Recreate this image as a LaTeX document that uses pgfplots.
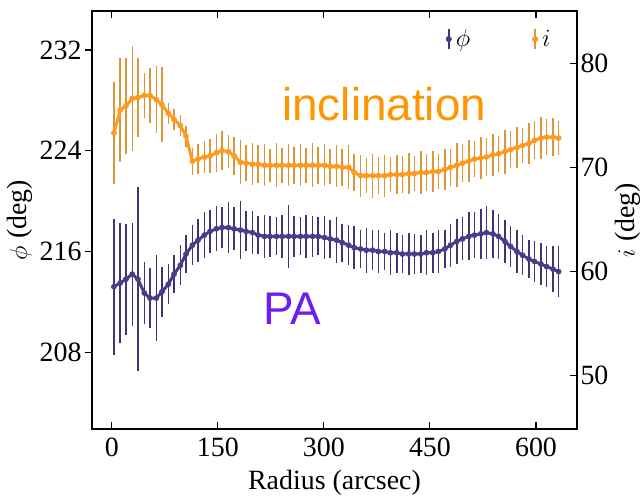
\documentclass[border=0pt]{standalone}
\usepackage{fontspec}
\setmainfont{Liberation Serif}
\newfontfamily\arialfont{Liberation Sans}
\usepackage{pgfplots}
\pgfplotsset{compat=1.18}
\usepackage{pgfplotstable}
\definecolor{pablue}{RGB}{72,61,139}
\definecolor{pabar}{RGB}{62,54,112}
\definecolor{incor}{RGB}{255,154,30}
\definecolor{incbar}{RGB}{218,150,55}
\definecolor{patext}{RGB}{110,30,240}
\definecolor{inctext}{RGB}{255,149,0}

\pgfplotstableread{
r v e
3 213.2 5.4
12 213.5 4.8
20 213.8 4.4
29 214.2 4.1
37 213.8 7.3
46 212.7 2.5
54 212.3 2.4
63 212.3 3.4
71 212.8 2.0
80 213.4 1.6
88 214.2 1.5
97 214.9 1.6
105 215.8 1.5
114 216.5 1.6
122 216.9 1.7
131 217.3 1.8
139 217.6 1.7
148 217.8 1.8
156 217.9 1.6
165 217.9 2.0
173 217.8 1.7
182 217.7 2.3
190 217.6 1.6
199 217.5 1.7
207 217.3 1.5
216 217.2 1.7
224 217.2 1.6
233 217.2 1.5
241 217.2 1.7
250 217.2 2.5
258 217.2 1.6
267 217.2 1.5
275 217.2 1.7
284 217.2 1.6
292 217.2 1.5
301 217.1 1.7
309 217.0 1.5
318 216.9 1.8
326 216.7 1.5
335 216.5 1.6
343 216.3 1.7
352 216.2 1.5
360 216.1 1.8
369 216.1 1.6
377 216.0 1.7
386 216.0 1.5
394 215.9 1.8
403 215.9 1.6
411 215.8 1.5
420 215.8 1.7
428 215.8 1.6
437 215.8 1.5
445 215.9 1.8
454 215.9 1.6
462 216.0 1.7
471 216.2 1.5
479 216.5 1.7
488 216.8 1.8
496 217.0 1.7
505 217.2 1.9
513 217.3 1.8
522 217.4 2.0
530 217.5 2.1
539 217.4 1.9
547 217.2 1.8
556 216.8 1.7
564 216.4 1.6
573 216.0 1.7
581 215.7 1.6
590 215.4 1.5
598 215.2 1.6
607 215.0 1.7
615 214.8 1.6
624 214.6 1.8
632 214.4 2.0
}\patable

\pgfplotstableread{
r v e
3 73.3 4.9
12 75.5 5.0
20 75.9 4.6
29 76.6 5.0
37 76.7 3.8
46 76.9 2.2
54 76.9 2.6
63 76.5 3.2
71 76.0 3.6
80 75.2 1.0
88 74.6 1.0
97 74.0 1.0
105 73.0 1.0
114 70.6 1.3
122 70.8 1.4
131 71.0 1.5
139 71.1 1.6
148 71.4 1.8
156 71.6 1.9
165 71.5 1.6
173 71.1 1.8
182 70.5 2.1
190 70.4 1.7
199 70.3 2.0
207 70.3 1.8
216 70.2 2.0
224 70.2 1.6
233 70.2 2.1
241 70.2 1.7
250 70.2 2.0
258 70.2 1.8
267 70.2 2.0
275 70.2 1.7
284 70.2 2.1
292 70.2 1.8
301 70.2 2.0
309 70.1 1.7
318 70.1 2.0
326 70.0 1.8
335 70.0 2.1
343 69.5 1.8
352 69.2 2.0
360 69.2 1.7
369 69.2 2.1
377 69.2 1.8
386 69.2 2.0
394 69.3 1.7
403 69.3 1.9
411 69.3 1.8
420 69.4 2.0
428 69.4 1.7
437 69.5 2.1
445 69.5 1.8
454 69.6 2.0
462 69.6 1.7
471 69.8 2.0
479 70.0 1.8
488 70.2 2.1
496 70.4 1.8
505 70.6 2.0
513 70.8 1.7
522 70.9 2.0
530 71.0 1.8
539 71.2 2.0
547 71.3 1.7
556 71.5 2.1
564 71.7 1.8
573 71.9 2.0
581 72.1 1.7
590 72.3 2.0
598 72.6 1.8
607 72.8 2.0
615 72.9 1.7
624 72.9 1.8
632 72.8 1.6
}\inctable

\pgfplotsset{
  common/.style={
    at={(0,0)}, anchor=south west,
    scale only axis, width=485bp, height=418bp,
    xmin=-28, xmax=658,
    axis line style={line width=1.1pt},
    tick style={black, line width=1.1pt},
    major tick length=7bp,
    ticklabel style={font=\fontsize{28}{32}\selectfont},
    label style={font=\fontsize{28}{32}\selectfont},
    /pgf/number format/assume math mode=true,
  },
}

\begin{document}
\begin{tikzpicture}
\begin{axis}[common,
  ymin=201.9, ymax=235.1,
  xtick=\empty,
  ytick={208,216,224,232},
  ytick pos=left, tick align=outside,
  ylabel={$\phi$ (deg)},
]
\addplot[draw=none, mark=none, forget plot,
  error bars/.cd, y dir=both, y explicit,
  error bar style={pabar, line width=1.6pt}, error mark=none]
  table[x=r, y=v, y error=e] {\patable};
\addplot[pablue, line width=3pt, mark=*, mark size=2.6bp,
  mark options={fill=pablue, draw=pablue, line width=0.5pt}, forget plot]
  table[x=r, y=v] {\patable};
\end{axis}

\begin{axis}[common,
  ymin=44.9, ymax=85.0,
  xtick={0,150,300,450,600},
  xtick pos=both,
  xticklabel shift=5bp,
  xlabel style={yshift=-7bp},
  ytick={50,60,70,80},
  ytick pos=right, yticklabel pos=right,
  tick align=inside,
  xlabel={Radius (arcsec)},
  ylabel={$i$ (deg)},
  legend style={draw=none, fill=none, at={(0.96,0.97)}, anchor=north east,
    font=\fontsize{28}{32}\selectfont,
    nodes={inner sep=4bp},
    /tikz/every even column/.append style={column sep=58bp}},
  legend columns=2,
]
\addlegendimage{legend image code/.code={
  \draw[pabar, line width=1.6pt] (0bp,-10bp) -- (0bp,10bp);
  \fill[pablue] (0bp,0bp) circle (2.8bp);}}
\addlegendentry{$\phi$}
\addlegendimage{legend image code/.code={
  \draw[incbar, line width=1.6pt] (0bp,-10bp) -- (0bp,10bp);
  \fill[incor] (0bp,0bp) circle (2.8bp);}}
\addlegendentry{$i$}
\addplot[draw=none, mark=none, forget plot,
  error bars/.cd, y dir=both, y explicit,
  error bar style={incbar, line width=1.6pt}, error mark=none]
  table[x=r, y=v, y error=e] {\inctable};
\addplot[incor, line width=3pt, mark=*, mark size=2.6bp,
  mark options={fill=incor, draw=incor, line width=0.5pt}, forget plot]
  table[x=r, y=v] {\inctable};
\node[anchor=base west, inner sep=0, text=inctext,
  font=\arialfont\fontsize{46}{50}\selectfont]
  at (rel axis cs:0.392,0.739) {inclination};
\node[anchor=base west, inner sep=0, text=patext,
  font=\arialfont\fontsize{46}{50}\selectfont]
  at (rel axis cs:0.353,0.249) {PA};
\end{axis}
\pgfresetboundingbox
\path[use as bounding box] (-92bp,-69bp) rectangle (551bp,429bp);
\end{tikzpicture}
\end{document}
